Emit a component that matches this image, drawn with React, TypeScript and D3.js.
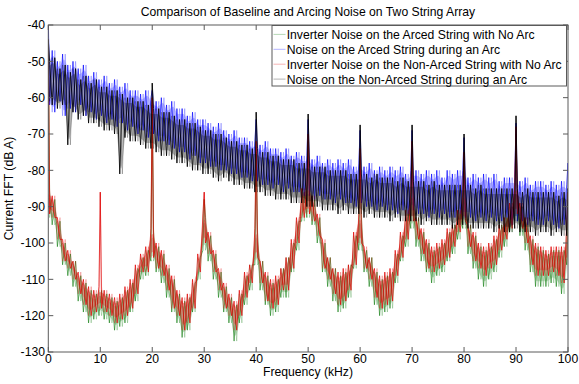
import React from "react";
import * as d3 from "d3";

const TITLE = "Comparison of Baseline and Arcing Noise on Two String Array";
const X_LABEL = "Frequency (kHz)";
const Y_LABEL = "Current FFT (dB A)";
const X_TICKS = [0, 10, 20, 30, 40, 50, 60, 70, 80, 90, 100];
const Y_TICKS = [-40, -50, -60, -70, -80, -90, -100, -110, -120, -130];
const SERIES_NAMES = [
  "Inverter Noise on the Arced String with No Arc",
  "Noise on the Arced String during an Arc",
  "Inverter Noise on the Non-Arced String with No Arc",
  "Noise on the Non-Arced String during an Arc",
];

// frequencies (kHz) of the per-kHz readings: 0..100
const FREQS = d3.range(0, 101);

// Inverter noise, arced string, no arc (green)
const GREEN_HI = [-86,-88,-94,-100,-103,-105,-109,-111,-113,-114,-113,-114,-115,-116,-115,-113,-111,-107,-104,-102,-97,-101,-103,-107,-110,-114,-116,-115,-111,-104,-93,-98,-103,-108,-112,-115,-117,-114,-109,-106,-97,-105,-109,-111,-110,-107,-104,-100,-94,-86,-85,-88,-93,-100,-104,-107,-109,-108,-106,-98,-93,-102,-104,-108,-110,-109,-108,-103,-98,-92,-87,-93,-97,-100,-102,-101,-100,-97,-95,-92,-87,-95,-98,-101,-102,-101,-99,-95,-93,-90,-85,-90,-93,-99,-101,-102,-103,-102,-102,-102,-96];
const GREEN_LO = [-93,-95,-101,-106,-109,-112,-116,-119,-122,-121,-120,-121,-122,-124,-123,-122,-119,-116,-110,-109,-105,-108,-111,-115,-119,-122,-126,-124,-119,-110,-102,-105,-110,-115,-119,-122,-127,-122,-117,-113,-106,-113,-117,-120,-119,-115,-115,-108,-102,-94,-93,-95,-100,-108,-112,-116,-119,-118,-115,-107,-102,-108,-112,-117,-120,-119,-118,-111,-105,-101,-96,-101,-105,-108,-111,-109,-108,-105,-103,-99,-96,-103,-107,-110,-112,-110,-108,-104,-101,-97,-94,-98,-102,-108,-112,-112,-112,-111,-112,-114,-106];
const GREEN_PEAK_F = [0, 20, 30, 40, 50, 60, 70, 80, 90, 100];
const GREEN_PEAK_V = [-47, -62, -88, -75, -72, -76, -74, -77, -70, -90];

// Noise on the arced string during an arc (blue)
const BLUE_HI = [-49,-47,-50,-48,-51,-50,-52,-51,-54,-53,-55,-54,-56,-55,-57,-56,-58,-58,-59,-58,-60,-61,-60,-62,-61,-63,-63,-65,-64,-66,-66,-67,-68,-67,-69,-70,-69,-71,-71,-72,-72,-73,-72,-74,-74,-75,-74,-76,-75,-76,-76,-77,-76,-78,-77,-78,-77,-78,-77,-79,-78,-79,-78,-80,-79,-80,-79,-80,-79,-81,-80,-80,-81,-80,-81,-80,-82,-80,-81,-80,-80,-82,-81,-82,-81,-82,-81,-83,-82,-82,-82,-83,-82,-84,-83,-83,-84,-83,-84,-83,-84];
const BLUE_LO = [-62,-64,-61,-65,-63,-64,-62,-65,-64,-66,-65,-67,-66,-68,-67,-69,-68,-70,-69,-71,-70,-72,-72,-73,-74,-75,-75,-77,-76,-78,-78,-79,-79,-80,-80,-81,-81,-82,-82,-83,-83,-84,-84,-85,-84,-86,-85,-86,-86,-87,-87,-88,-87,-88,-88,-89,-88,-89,-89,-90,-89,-90,-90,-91,-90,-91,-91,-92,-91,-92,-91,-92,-92,-93,-92,-93,-92,-93,-93,-92,-93,-93,-94,-93,-94,-93,-94,-94,-93,-95,-94,-94,-95,-94,-95,-95,-94,-95,-96,-95,-95];
const BLUE_PEAK_F = [0, 20, 40, 50, 60, 70, 80, 90, 100];
const BLUE_PEAK_V = [-40, -58, -66, -66, -69, -69, -71, -67, -78];

// Inverter noise, non-arced string, no arc (red)
const RED_HI = [-85,-87,-93,-99,-102,-105,-108,-110,-112,-113,-112,-113,-114,-115,-114,-112,-110,-106,-103,-101,-96,-100,-102,-106,-109,-113,-115,-114,-110,-103,-92,-97,-102,-107,-111,-114,-116,-113,-108,-106,-96,-105,-108,-110,-109,-107,-104,-99,-93,-85,-84,-87,-92,-99,-104,-107,-108,-107,-106,-97,-92,-101,-104,-107,-109,-108,-107,-102,-97,-91,-86,-93,-96,-99,-101,-100,-99,-96,-95,-91,-86,-95,-97,-100,-101,-100,-98,-95,-93,-89,-84,-89,-93,-98,-100,-101,-102,-101,-101,-101,-95];
const RED_LO = [-92,-93,-99,-105,-107,-110,-114,-117,-120,-119,-118,-119,-120,-122,-121,-120,-118,-114,-108,-108,-104,-107,-109,-113,-118,-120,-124,-122,-118,-108,-100,-103,-108,-113,-118,-120,-124,-120,-115,-111,-104,-111,-116,-118,-117,-113,-113,-107,-100,-93,-92,-94,-98,-107,-110,-114,-117,-116,-113,-106,-100,-107,-110,-115,-118,-117,-116,-109,-104,-99,-94,-99,-103,-107,-108,-107,-106,-104,-101,-97,-94,-101,-105,-107,-109,-107,-106,-102,-99,-96,-92,-96,-100,-106,-109,-109,-109,-108,-109,-111,-104];
const RED_PEAK_F = [0, 10, 20, 30, 40, 50, 60, 70, 80, 90, 100];
const RED_PEAK_V = [-44, -86, -60, -86, -72, -70, -74, -72, -75, -68, -86];

// Noise on the non-arced string during an arc (black)
const BLACK_HI = [-50,-49,-52,-51,-53,-52,-55,-54,-56,-55,-57,-57,-58,-58,-59,-60,-60,-61,-61,-62,-63,-63,-64,-64,-65,-66,-66,-67,-67,-68,-69,-69,-70,-70,-71,-72,-72,-73,-73,-74,-74,-75,-75,-76,-76,-77,-77,-77,-78,-78,-78,-79,-79,-79,-80,-80,-80,-80,-81,-81,-81,-81,-82,-81,-82,-82,-82,-83,-82,-83,-83,-83,-83,-84,-83,-84,-84,-84,-84,-84,-84,-84,-85,-84,-85,-85,-85,-85,-85,-85,-85,-86,-85,-86,-86,-86,-86,-86,-87,-86,-87];
const BLACK_LO = [-61,-62,-63,-62,-73,-64,-66,-65,-67,-67,-68,-69,-69,-70,-81,-71,-72,-72,-73,-74,-74,-75,-76,-76,-77,-78,-78,-79,-80,-80,-81,-81,-82,-83,-82,-83,-84,-84,-85,-85,-86,-86,-87,-87,-88,-88,-88,-89,-89,-89,-90,-90,-90,-91,-91,-91,-92,-91,-92,-92,-92,-93,-92,-93,-93,-93,-94,-93,-94,-94,-94,-94,-95,-94,-95,-95,-95,-95,-96,-95,-95,-96,-96,-96,-96,-96,-97,-96,-97,-97,-96,-97,-97,-97,-98,-97,-97,-98,-97,-98,-98];
const BLACK_PEAK_F = [0, 20, 40, 50, 60, 70, 80, 90, 100];
const BLACK_PEAK_V = [-44, -56, -64, -64.5, -67.5, -67.5, -70, -65, -85];

const COLORS = ["#0a7a0a", "#0000ff", "#e00000", "#000000"];

const W = 579;
const H = 384;
const M = { left: 48.3, right: 568, top: 25, bottom: 352 };

const x = d3.scaleLinear().domain([0, 100]).range([M.left, M.right]);
const y = d3.scaleLinear().domain([-130, -40]).range([M.bottom, M.top]);

type Band = { hi: number[]; lo: number[]; pf: number[]; pv: number[]; hiFirst: boolean };

const BANDS: Band[] = [
  { hi: GREEN_HI, lo: GREEN_LO, pf: GREEN_PEAK_F, pv: GREEN_PEAK_V, hiFirst: false },
  { hi: BLUE_HI, lo: BLUE_LO, pf: BLUE_PEAK_F, pv: BLUE_PEAK_V, hiFirst: true },
  { hi: RED_HI, lo: RED_LO, pf: RED_PEAK_F, pv: RED_PEAK_V, hiFirst: true },
  { hi: BLACK_HI, lo: BLACK_LO, pf: BLACK_PEAK_F, pv: BLACK_PEAK_V, hiFirst: false },
];

const FILL_OPACITY = [0.2, 0.2, 0.3, 0.25];
const LINE_WIDTH = [0.7, 0.8, 0.85, 1.0];

function buildPoints(b: Band, swap: boolean): [number, number][] {
  const pts: [number, number][] = [];
  const first = swap ? !b.hiFirst : b.hiFirst;
  FREQS.forEach((f, i) => {
    const a = first ? b.hi[i] : b.lo[i];
    const c = first ? b.lo[i] : b.hi[i];
    pts.push([f - 0.25, a]);
    const k = b.pf.indexOf(f);
    if (k >= 0) pts.push([f, b.pv[k]]);
    pts.push([f + 0.25, c]);
  });
  return pts;
}

const line = d3
  .line<[number, number]>()
  .x((d) => x(d[0]))
  .y((d) => y(d[1]));

function bandArea(b: Band): string {
  const a = d3
    .area<number>()
    .x((f) => x(f))
    .y0((_, i) => y(b.lo[i] + 1.5))
    .y1((_, i) => y(b.hi[i] - 1.5))
    .curve(d3.curveMonotoneX);
  return a(FREQS) || "";
}

const FONT = "'Liberation Sans', Arial, Helvetica, sans-serif";
const FS = 12.2;

export default function App() {
  const axisColor = "#5a5a5a";
  const tick = 5;
  return (
    <svg
      width={W}
      height={H}
      style={{ position: "absolute", left: 0, top: 0, background: "#fff" }}
      fontFamily={FONT}
    >
      <defs>
        <clipPath id="plotclip">
          <rect x={M.left} y={M.top} width={M.right - M.left} height={M.bottom - M.top} />
        </clipPath>
      </defs>
      <rect x={0} y={0} width={W} height={H} fill="#fff" />
      <text x={308} y={16} fontSize={FS} textAnchor="middle" fill="#000">
        {TITLE}
      </text>

      <g clipPath="url(#plotclip)">
        {BANDS.map((b, i) => (
          <g key={i}>
            <path d={bandArea(b)} fill={COLORS[i]} fillOpacity={FILL_OPACITY[i]} stroke="none" />
            <path d={line(buildPoints(b, false)) || ""} fill="none" stroke={COLORS[i]} strokeWidth={LINE_WIDTH[i]} strokeOpacity={0.85} />
            <path d={line(buildPoints(b, true)) || ""} fill="none" stroke={COLORS[i]} strokeWidth={0.5} strokeOpacity={0.5} />
          </g>
        ))}
      </g>

      {/* axes frame */}
      <rect x={M.left} y={M.top} width={M.right - M.left} height={M.bottom - M.top} fill="none" stroke={axisColor} strokeWidth={1} />
      {X_TICKS.map((t) => (
        <g key={"x" + t}>
          <line x1={x(t)} x2={x(t)} y1={M.bottom} y2={M.bottom - tick} stroke={axisColor} />
          <line x1={x(t)} x2={x(t)} y1={M.top} y2={M.top + tick} stroke={axisColor} />
          <text x={x(t)} y={362.5} fontSize={FS} textAnchor="middle" fill="#000">
            {t}
          </text>
        </g>
      ))}
      {Y_TICKS.map((t) => (
        <g key={"y" + t}>
          <line x1={M.left} x2={M.left + tick} y1={y(t)} y2={y(t)} stroke={axisColor} />
          <line x1={M.right} x2={M.right - tick} y1={y(t)} y2={y(t)} stroke={axisColor} />
          <text x={45} y={y(t) + 4.4} fontSize={FS} textAnchor="end" fill="#000">
            {t}
          </text>
        </g>
      ))}
      <text x={308} y={376} fontSize={FS} textAnchor="middle" fill="#000">
        {X_LABEL}
      </text>
      <text transform={`translate(13,${(M.top + M.bottom) / 2}) rotate(-90)`} fontSize={FS} textAnchor="middle" fill="#000">
        {Y_LABEL}
      </text>

      {/* legend */}
      <g>
        <rect x={272} y={25.5} width={294.5} height={60.5} fill="#fff" stroke={axisColor} strokeWidth={1} />
        {SERIES_NAMES.map((name, i) => (
          <g key={name}>
            <line x1={273.5} x2={285.5} y1={34.4 + i * 14.9} y2={34.4 + i * 14.9} stroke={COLORS[i]} strokeWidth={0.6} strokeOpacity={0.5} />
            <text x={286.7} y={38.8 + i * 14.9} fontSize={FS} fill="#000">
              {name}
            </text>
          </g>
        ))}
      </g>
    </svg>
  );
}
